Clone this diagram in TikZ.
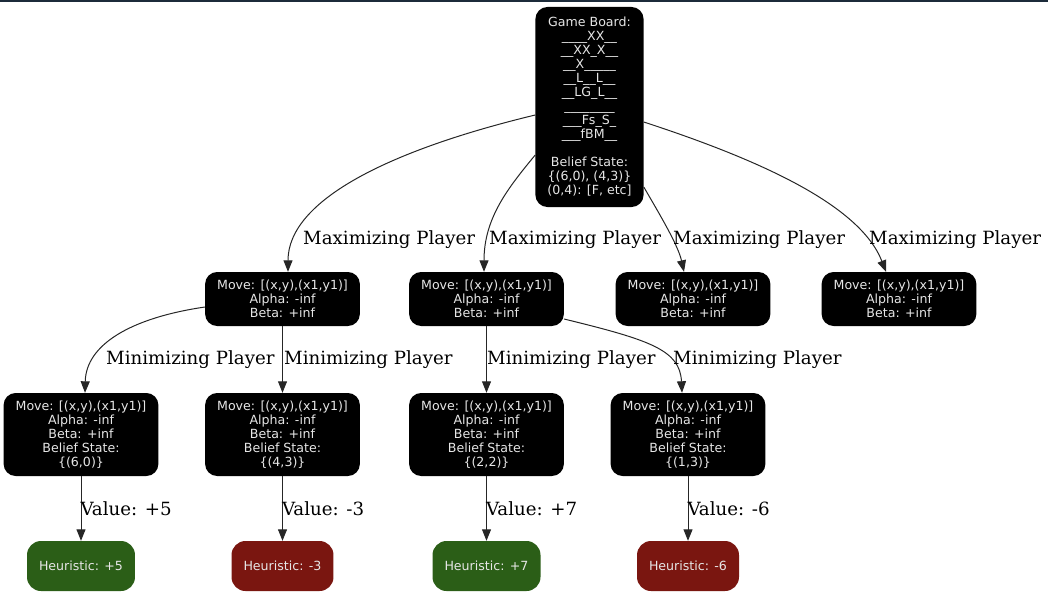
\documentclass[tikz,border=0pt]{standalone}
\usepackage{fontspec}
\setmainfont{DejaVu Sans}
\newfontfamily\edgefont{DejaVu Serif}
\usepackage{tikz}
\usetikzlibrary{arrows.meta,calc}
\definecolor{barra}{HTML}{1C2B3A}
\definecolor{texto}{HTML}{E6E6E6}
\definecolor{verde}{HTML}{2B5E17}
\definecolor{rojo}{HTML}{7A1610}

\tikzset{
  state/.style={fill=black, rounded corners=12pt, text=texto, align=center,
    inner xsep=12pt, inner ysep=0pt, font=\fontsize{12.6}{14}\selectfont},
  heur/.style={state, rounded corners=14pt, minimum height=50pt},
  lbl/.style={anchor=west, inner sep=0pt, font=\edgefont\fontsize{18.2}{20}\selectfont},
  link/.style={-{Triangle[length=11.5pt,width=9pt]}, line width=1pt, draw=black!85}
}

\begin{document}
\begin{tikzpicture}[x=1pt, y=-1pt]
  \useasboundingbox (0,0) rectangle (1048,594);
  \fill[barra] (0,0) rectangle (1048,2);

  % root
  \node[state, minimum width=105pt, minimum height=200pt] (root) at (589.5,107)
    {Game Board:\\\_\_\_\_XX\_\_\\\_\_XX\_X\_\_\\\_\_X\_\_\_\_\_\\\_\_L\_\_L\_\_\\
     \_\_LG\_L\_\_\\\_\_\_\_\_\_\_\_\\\_\_\_Fs\_S\_\\\_\_\_fBM\_\_\\[14pt]
     Belief State:\\\{(6,0), (4,3)\}\\(0,4): [F, etc]};

  % max level
  \foreach \n/\x in {1/282.5, 2/486.5, 3/693, 4/899}
    \node[state, minimum height=54pt] (m\n) at (\x,299)
      {Move: [(x,y),(x1,y1)]\\Alpha: -inf\\Beta: +inf};

  % min level
  \foreach \n/\x/\b in {1/81/{(6,0)}, 2/282.5/{(4,3)}, 3/486.5/{(2,2)}, 4/688/{(1,3)}}
    \node[state, minimum height=83pt] (b\n) at (\x,434.5)
      {Move: [(x,y),(x1,y1)]\\Alpha: -inf\\Beta: +inf\\Belief State:\\\{\b\}};

  % leaves
  \foreach \n/\x/\v/\c in {1/81/+5/verde, 2/282.5/-3/rojo, 3/486.5/+7/verde, 4/688/-6/rojo}{
    \node[heur, fill=\c] (h\n) at (\x,566) {Heuristic: \v};
    \draw[link] (b\n.south) -- (h\n.north)
      node[lbl, pos=0.5, xshift=-1pt] (v\n) {Value: \v};
  }

  % root -> max
  \draw[link] ([yshift=-8pt]root.west) .. controls (390,150) and (288,200) .. ([xshift=5.5pt]m1.north);
  \draw[link] ([yshift=-48pt]root.west) .. controls (508,188) and (484,218) .. ([xshift=-2.5pt]m2.north);
  \draw[link] ([yshift=-80pt]root.east) .. controls (660,215) and (678,245) .. ([xshift=-9pt]m3.north);
  \draw[link] ([yshift=-15pt]root.east) .. controls (760,160) and (860,205) .. ([xshift=-13pt]m4.north);

  % max -> min
  \draw[link] ([yshift=-8pt]m1.west) .. controls (130,318) and (86,345) .. ([xshift=4pt]b1.north);
  \draw[link] (m1.south) -- (b2.north);
  \draw[link] (m2.south) -- (b3.north);
  \draw[link] ([yshift=-20pt]m2.east) .. controls (650,340) and (680,350) .. ([xshift=-6pt]b4.north);

  % edge labels
  \foreach \n/\x/\y/\t in {1/303/240/Maximizing Player, 2/489/240/Maximizing Player,
                           3/673/240/Maximizing Player, 4/869/240/Maximizing Player,
                           5/106/360/Minimizing Player, 6/284/360/Minimizing Player,
                           7/487/360/Minimizing Player, 8/673/360/Minimizing Player}
    \node[lbl] (e\n) at (\x,\y) {\t};
\end{tikzpicture}
\end{document}
